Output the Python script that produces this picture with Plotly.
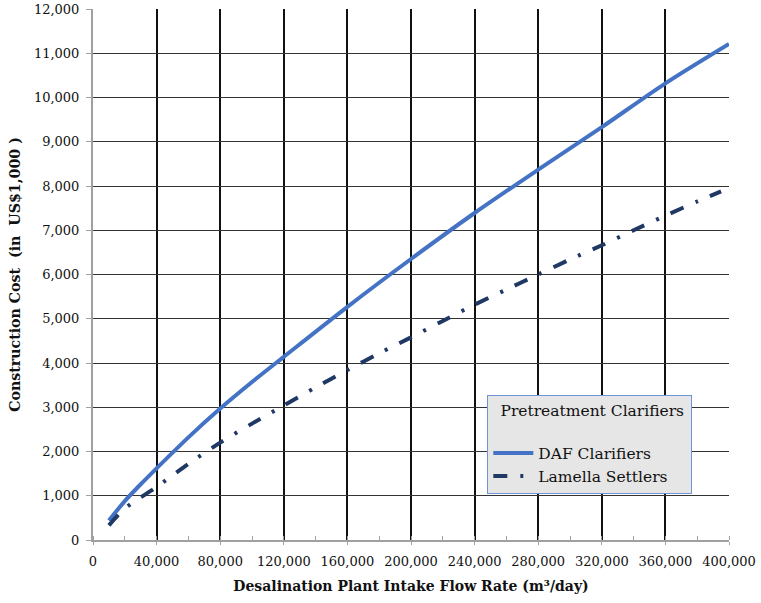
import plotly.graph_objects as go

# Intake flow rate (m3/day) and construction cost (US$1,000)
daf_flow = [10000, 20000, 30000, 40000, 60000, 80000, 100000, 120000, 160000,
            200000, 240000, 280000, 320000, 360000, 400000]
daf_cost = [440, 880, 1260, 1620, 2320, 2970, 3570, 4140, 5270,
            6350, 7390, 8370, 9330, 10320, 11210]

lamella_flow = [10000, 20000, 40000, 60000, 80000, 100000, 120000, 140000, 160000,
                180000, 200000, 220000, 240000, 260000, 280000, 300000, 320000,
                340000, 360000, 380000, 395000]
lamella_cost = [330, 710, 1200, 1720, 2200, 2630, 3040, 3450, 3840,
                4220, 4580, 4950, 5320, 5660, 6000, 6340, 6660,
                7000, 7330, 7650, 7880]

x_ticks = list(range(0, 400001, 40000))
x_labels = [f"{v:,}" for v in x_ticks]
y_ticks = list(range(0, 12001, 1000))
y_labels = [f"{v:,}" for v in y_ticks]

FONT = "DejaVu Serif"

fig = go.Figure()
fig.add_trace(go.Scatter(
    x=daf_flow, y=daf_cost, name="DAF Clarifiers", mode="lines",
    line=dict(color="#4472C4", width=4, shape="spline", smoothing=0.8),
))
fig.add_trace(go.Scatter(
    x=lamella_flow, y=lamella_cost, name="Lamella Settlers", mode="lines",
    line=dict(color="#1F3864", width=4, shape="spline", smoothing=0.8,
              dash="14px,13px,3px,13px"),
))

fig.update_layout(
    width=761, height=603,
    margin=dict(l=93, r=32, t=9, b=63),
    paper_bgcolor="white", plot_bgcolor="white",
    font=dict(family=FONT, size=13, color="#111"),
    showlegend=True,
    legend=dict(
        x=0.62, y=0.273, xanchor="left", yanchor="top",
        bgcolor="#E6E6E6", bordercolor="#6F95D8", borderwidth=1,
        font=dict(family=FONT, size=15.5, color="#111"),
        title=dict(text="&nbsp;&nbsp;Pretreatment Clarifiers&nbsp;<br> ",
                   side="top center",
                   font=dict(family=FONT, size=15.5, color="#111")),
        itemwidth=40,
    ),
)

fig.update_xaxes(
    range=[0, 400000], tickvals=x_ticks, ticktext=x_labels,
    automargin=False,
    showgrid=True, gridcolor="#111", gridwidth=2,
    showline=True, linecolor="#A0A0A0", linewidth=2,
    ticks="outside", ticklen=3, tickcolor="#A0A0A0",
    minor=dict(dtick=20000, ticks="inside", ticklen=4, tickcolor="#A0A0A0",
               showgrid=False),
    zeroline=False, ticklabelstandoff=5,
    tickfont=dict(family=FONT, size=13, color="#111"),
    title=dict(text="<b>Desalination Plant Intake Flow Rate (m³/day)</b>",
               font=dict(family=FONT, size=14, color="#111"), standoff=14),
)
fig.update_yaxes(
    range=[0, 12000], tickvals=y_ticks, ticktext=y_labels,
    automargin=False,
    showgrid=True, gridcolor="#333", gridwidth=1,
    showline=True, linecolor="#A0A0A0", linewidth=2,
    ticks="outside", ticklen=5, tickcolor="#A0A0A0",
    zeroline=False, ticklabelstandoff=4,
    tickfont=dict(family=FONT, size=13, color="#111"),
    title=dict(text="<b>Construction Cost  (in  US$1,000 )</b>",
               font=dict(family=FONT, size=14.2, color="#111"), standoff=10),
)

fig.write_html("out.html")
